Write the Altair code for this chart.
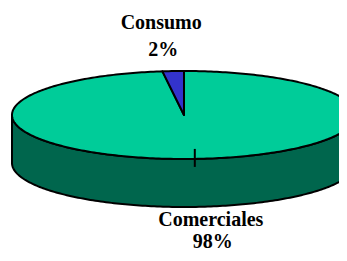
import math
import altair as alt
import pandas as pd

# ---- data ----
categories = ["Comerciales", "Consumo"]
values = [98, 2]

# ---- style / layout ----
top_colors = {"Comerciales": "#00CC99", "Consumo": "#3333CC"}
side_colors = {"Comerciales": "#00664D", "Consumo": "#1A1A66"}
CX, CY, RX, RY, DEPTH = 184.0, 115.0, 172.0, 44.0, 48.0
OFF = 8.0  # page margin
label_off = {
    "Consumo": dict(dx=-12, dy_name=-42, dy_pct=-15, anchor="top"),
    "Comerciales": dict(dx=16, dy_name=19, dy_pct=41, anchor="bottom"),
}
FONT = "Liberation Serif"
FSIZE = 20


def rim(theta_deg, depth=0.0):
    t = math.radians(theta_deg)
    return [CX + RX * math.sin(t), CY - RY * math.cos(t) + depth]


def arc_pts(a, b, depth=0.0, n=None):
    if n is None:
        n = max(2, int(abs(b - a) / 1.0) + 1)
    return [rim(a + (b - a) * i / (n - 1), depth) for i in range(n)]


total = sum(values)
starts, ends = [], []
acc = 0.0
for v in values:
    starts.append(acc / total * 360.0)
    acc += v
    ends.append(acc / total * 360.0)

side_feats, top_feats = [], []
for cat, a, b in zip(categories, starts, ends):
    fa, fb = max(a, 90.0), min(b, 270.0)
    if fb > fa:
        ring = arc_pts(fa, fb, DEPTH) + arc_pts(fb, fa, 0.0)
        ring.append(ring[0])
        side_feats.append({"type": "Feature",
                           "properties": {"cat": cat, "color": side_colors[cat]},
                           "geometry": {"type": "Polygon", "coordinates": [ring]}})
    ring = [[CX, CY]] + arc_pts(a, b) + [[CX, CY]]
    top_feats.append({"type": "Feature",
                      "properties": {"cat": cat, "color": top_colors[cat]},
                      "geometry": {"type": "Polygon", "coordinates": [ring]}})

big = values.index(max(values))
mid_big = (starts[big] + ends[big]) / 2
px, py = rim(mid_big)
tick_feats = [{"type": "Feature", "properties": {"cat": categories[big]},
               "geometry": {"type": "LineString",
                            "coordinates": [[px, py - 10], [px, py + 8]]}}]

rows = []
for cat, v, a, b in zip(categories, values, starts, ends):
    mid = (a + b) / 2
    o = label_off[cat]
    ax, ay = rim(mid, 0.0 if o["anchor"] == "top" else DEPTH)
    pct = f"{round(v / total * 100)}%"
    rows.append({"text": cat, "lon": ax + o["dx"], "lat": ay + o["dy_name"]})
    rows.append({"text": pct, "lon": ax + o["dx"] + 2, "lat": ay + o["dy_pct"]})
labels = pd.DataFrame(rows)


def fc(feats):
    return alt.Data(values={"type": "FeatureCollection", "features": feats},
                    format=alt.DataFormat(property="features", type="json"))


sides = alt.Chart(fc(side_feats)).mark_geoshape(
    stroke="black", strokeWidth=2, strokeJoin="round"
).encode(fill=alt.Fill("properties.color:N", scale=None))

tops = alt.Chart(fc(top_feats)).mark_geoshape(
    stroke="black", strokeWidth=2, strokeJoin="round"
).encode(fill=alt.Fill("properties.color:N", scale=None))

tick = alt.Chart(fc(tick_feats)).mark_geoshape(
    filled=False, stroke="black", strokeWidth=2
).encode(stroke=alt.value("black"))

text = alt.Chart(labels).mark_text(
    font=FONT, fontSize=FSIZE, fontWeight="bold", color="black",
    align="center", baseline="alphabetic"
).encode(longitude="lon:Q", latitude="lat:Q", text="text:N")

chart = alt.layer(sides, tops, tick, text).project(
    type="identity", scale=1, translate=[-OFF, -OFF]
).properties(
    width=331, height=245, padding=0,
    autosize=alt.AutoSizeParams(type="none"),
    background="white",
).configure_view(stroke=None)

chart.save("out.html", embed_options={"renderer": "svg", "actions": False})
